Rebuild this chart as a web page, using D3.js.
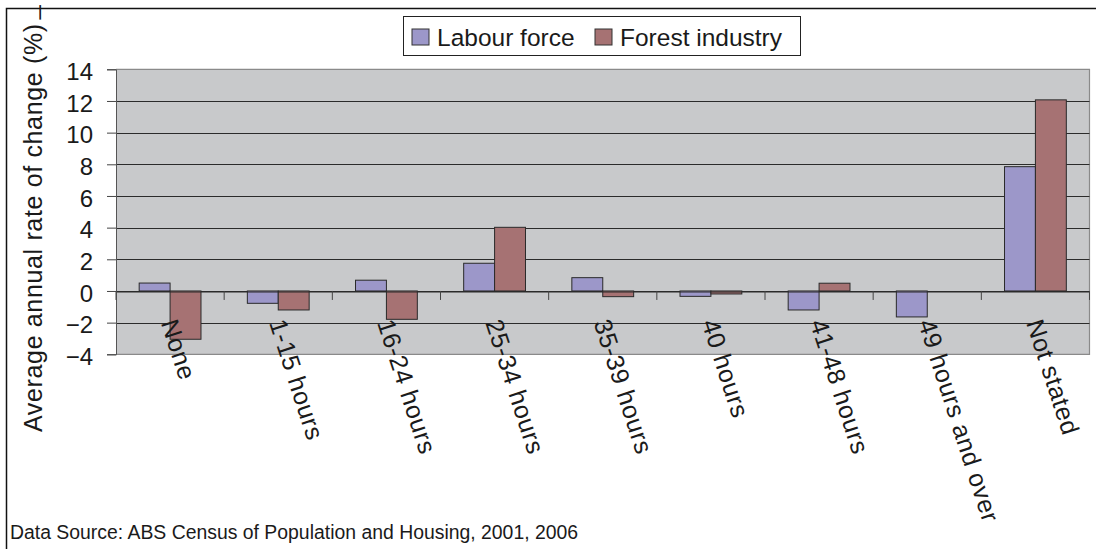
<!DOCTYPE html>
<html><head><meta charset="utf-8">
<script src="https://cdn.jsdelivr.net/npm/d3@7/dist/d3.min.js"></script>
<style>
body{margin:0;background:#fff;}
svg{display:block;font-family:"Liberation Sans",Arial,sans-serif;}
</style></head><body>
<svg id="chart" width="1096" height="549"></svg>
<script>
const categories = ["None","1-15 hours","16-24 hours","25-34 hours","35-39 hours","40 hours","41-48 hours","49 hours and over","Not stated"];
const seriesNames = ["Labour force","Forest industry"];
const labourForce = [0.5,-0.78,0.68,1.75,0.84,-0.34,-1.2,-1.64,7.85];
const forestIndustry = [-3.05,-1.2,-1.79,4.02,-0.36,-0.19,0.49,0,12.07];
const yTicks = [-4,-2,0,2,4,6,8,10,12,14];
const colors = ["#9c97c9","#a67273"];
const yTitle = "Average annual rate of change (%)";
const source = "Data Source: ABS Census of Population and Housing, 2001, 2006";

const svg = d3.select("#chart");
const L = 116, R = 1089.5, T = 69.3, B = 354.3;

// outer frame
svg.append("path").attr("d","M6.5,560V8.5H1100").attr("fill","none").attr("stroke","#111").attr("stroke-width",1.5);

const x = d3.scaleBand().domain(categories).range([L,R]).paddingInner(0).paddingOuter(0);
const x1 = d3.scaleBand().domain(seriesNames).range([0,x.bandwidth()]).paddingInner(0).paddingOuter(0.75);
const y = d3.scaleLinear().domain([-4,14]).range([B,T]);

// plot background
svg.append("rect").attr("x",L).attr("y",T).attr("width",R-L).attr("height",B-T).attr("fill","#c8c9cb");
svg.append("path").attr("d",`M${L},${T}H${R}V${B}H${L}`).attr("fill","none").attr("stroke","#8a8a8a").attr("stroke-width",1.2);

// gridlines
svg.append("g").selectAll("line").data(yTicks.filter(t=>t>-4&&t<14)).join("line")
  .attr("x1",L).attr("x2",R).attr("y1",d=>Math.round(y(d))+0.5).attr("y2",d=>Math.round(y(d))+0.5)
  .attr("stroke","#2b2b2b").attr("stroke-width",1);

// bars
const data = categories.map((c,i)=>({c, vals:[labourForce[i],forestIndustry[i]]}));
const g = svg.append("g");
data.forEach(d=>{
  d.vals.forEach((v,j)=>{
    if(v===0) return;
    g.append("rect")
      .attr("x",x(d.c)+x1(seriesNames[j]))
      .attr("y",y(Math.max(0,v)))
      .attr("width",x1.bandwidth())
      .attr("height",Math.abs(y(v)-y(0)))
      .attr("fill",colors[j]).attr("stroke","#2a2a2a").attr("stroke-width",1);
  });
});

// y axis
const yAxis = d3.axisLeft(y).tickValues(yTicks).tickSize(9).tickPadding(14).tickFormat(d3.format("d"));
const ya = svg.append("g").attr("transform",`translate(${L},0)`).call(yAxis);
ya.select(".domain").attr("stroke","#555");
ya.selectAll(".tick line").attr("stroke","#444");
ya.selectAll(".tick text").attr("font-size",24).attr("fill","#1a1a1a").attr("font-family","Liberation Sans, Arial, sans-serif").attr("dy","0.42em");

// x axis at zero
const xAxis = d3.axisBottom(x).tickSize(0).tickFormat("");
const xa = svg.append("g").attr("transform",`translate(0,${Math.round(y(0))+0.5})`).call(xAxis);
xa.select(".domain").attr("stroke","#2b2b2b");
const bounds = categories.map(c=>x(c)).concat([R]);
svg.append("g").selectAll("line").data(bounds).join("line")
  .attr("x1",d=>d).attr("x2",d=>d).attr("y1",y(0)).attr("y2",y(0)+9).attr("stroke","#444");

// category labels
svg.append("g").selectAll("text").data(categories).join("text")
  .attr("transform",d=>`translate(${x(d)+x.bandwidth()/2-1},${y(0)+29}) rotate(72)`)
  .attr("dy","0.35em").attr("font-size",25).attr("letter-spacing","0.6px").attr("fill","#1a1a1a").text(d=>d);

// y title
const yt = svg.append("text").attr("transform","translate(43,432) rotate(-90)")
  .attr("font-size",25).attr("letter-spacing","0.65px").attr("fill","#1a1a1a").attr("dy","-0.05em");
yt.append("tspan").text(yTitle);
yt.append("tspan").attr("dx",4).attr("dy","-0.22em").text("_");

// legend
const lg = svg.append("g");
lg.append("rect").attr("x",403.5).attr("y",16.5).attr("width",397).attr("height",39).attr("fill","#fff").attr("stroke","#222").attr("stroke-width",1);
const legX = [412,595];
seriesNames.forEach((s,j)=>{
  lg.append("rect").attr("x",legX[j]).attr("y",29).attr("width",17).attr("height",16).attr("fill",colors[j]).attr("stroke","#333");
  lg.append("text").attr("x",legX[j]+25).attr("y",45.5).attr("font-size",24.5).attr("fill","#1a1a1a").text(s);
});

// source
svg.append("text").attr("x",10).attr("y",539).attr("font-size",19.4).attr("fill","#1a1a1a").text(source);
</script></body></html>
